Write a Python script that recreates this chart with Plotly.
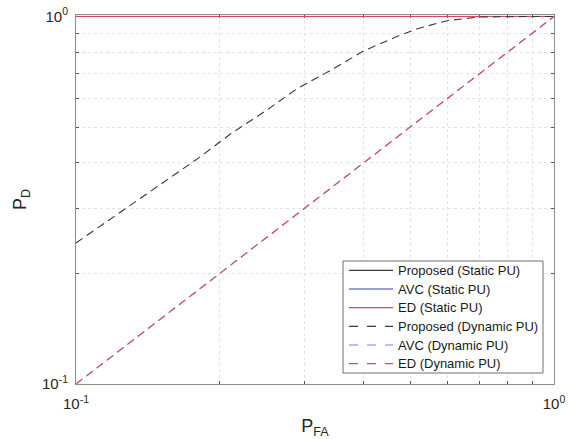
import plotly.graph_objects as go

# False-alarm probability grid shared by the static and diagonal curves
pfa = [0.1, 0.2, 0.3, 0.4, 0.5, 0.6, 0.7, 0.8, 0.9, 1.0]

# Static PU: all detectors reach P_D = 1
pd_proposed_static = [1.0, 1.0, 1.0, 1.0, 1.0, 1.0, 1.0, 1.0, 1.0, 1.0]
pd_avc_static = [1.0, 1.0, 1.0, 1.0, 1.0, 1.0, 1.0, 1.0, 1.0, 1.0]
pd_ed_static = [1.0, 1.0, 1.0, 1.0, 1.0, 1.0, 1.0, 1.0, 1.0, 1.0]

# Dynamic PU: proposed detector
pfa_proposed_dyn = [0.10, 0.12, 0.15, 0.18, 0.21, 0.25, 0.29, 0.34, 0.40,
                    0.47, 0.52, 0.60, 0.70, 0.80, 0.90, 1.00]
pd_proposed_dyn = [0.242, 0.285, 0.349, 0.411, 0.478, 0.555, 0.636, 0.712, 0.806,
                   0.883, 0.928, 0.975, 0.997, 1.0, 1.0, 1.0]

# Dynamic PU: AVC and ED follow the chance line
pd_avc_dyn = [0.1, 0.2, 0.3, 0.4, 0.5, 0.6, 0.7, 0.8, 0.9, 1.0]
pd_ed_dyn = [0.1, 0.2, 0.3, 0.4, 0.5, 0.6, 0.7, 0.8, 0.9, 1.0]

FONT = "Liberation Sans, Arial, sans-serif"
W, H = 572, 439
ML, MR, MT, MB = 76, 18, 15, 55
PW, PH = W - ML - MR, H - MT - MB


def px_to_paper(px, py):
    return (px - ML) / PW, (H - MB - py) / PH


fig = go.Figure()

series = [
    ("Proposed (Static PU)", pfa, pd_proposed_static, "#3a3a3a", "solid"),
    ("AVC (Static PU)", pfa, pd_avc_static, "#3c3cc8", "solid"),
    ("ED (Static PU)", pfa, pd_ed_static, "#d84a52", "solid"),
    ("Proposed (Dynamic PU)", pfa_proposed_dyn, pd_proposed_dyn, "#383838", "8px,5px"),
    ("AVC (Dynamic PU)", pfa, pd_avc_dyn, "#7c7cf0", "8px,5px"),
    ("ED (Dynamic PU)", pfa, pd_ed_dyn, "#d84a5e", "8px,5px"),
]
for name, xs, ys, color, dash in series:
    fig.add_trace(go.Scatter(
        x=xs, y=ys, name=name, mode="lines", showlegend=False,
        line=dict(color=color, width=1.0 if dash == "solid" else 1.1, dash=dash),
    ))

# Legend box drawn with shapes so its row spacing can be set
box_x0, box_x1, box_y0, box_y1 = 343, 543, 261, 373
bx0, by0 = px_to_paper(box_x0, box_y1)
bx1, by1 = px_to_paper(box_x1, box_y0)
fig.add_shape(type="rect", xref="paper", yref="paper",
              x0=bx0, y0=by0, x1=bx1, y1=by1,
              line=dict(color="#6e6e6e", width=1), fillcolor="white", layer="above")
row_h = (box_y1 - box_y0) / len(series)
for i, (name, _, _, color, dash) in enumerate(series):
    cy = box_y0 + row_h * (i + 0.5)
    lx0, ly = px_to_paper(349, cy)
    lx1, _ = px_to_paper(393, cy)
    fig.add_shape(type="line", xref="paper", yref="paper",
                  x0=lx0, x1=lx1, y0=ly, y1=ly, layer="above",
                  line=dict(color=color, width=1.1,
                            dash="dash" if dash != "solid" else "solid"))
    tx, _ = px_to_paper(396, cy)
    fig.add_annotation(xref="paper", yref="paper", x=tx, y=ly,
                       xanchor="left", yanchor="middle", showarrow=False,
                       text=name, font=dict(family=FONT, size=13, color="#1a1a1a"))

minor_grid = dict(
    tickvals=[0.2, 0.3, 0.4, 0.5, 0.6, 0.7, 0.8, 0.9],
    ticks="inside",
    ticklen=3,
    tickcolor="#555555",
    showgrid=True,
    gridcolor="#e2e2e2",
    griddash="dot",
    gridwidth=1,
)

axis_common = dict(
    type="log",
    automargin=False,
    showline=True,
    linecolor="#8c8c8c",
    linewidth=1,
    mirror="allticks",
    ticks="inside",
    ticklen=5,
    tickcolor="#555555",
    showgrid=False,
    zeroline=False,
    layer="below traces",
    tickvals=[0.1, 1.0],
    ticktext=["10<sup>-1</sup>", "10<sup>0</sup>"],
    tickfont=dict(family=FONT, size=15, color="#262626"),
    minor=minor_grid,
)

fig.update_xaxes(
    **axis_common,
    range=[-1, 0],
    ticklabelstandoff=6,
    title=dict(text="P<sub>FA</sub>", standoff=14,
               font=dict(family=FONT, size=18, color="#262626")),
)
fig.update_yaxes(
    **axis_common,
    range=[-1, 0.004],
    ticklabelstandoff=4,
    title=dict(text="P<sub>D</sub>", standoff=10,
               font=dict(family=FONT, size=18, color="#262626")),
)

fig.update_layout(
    width=W,
    height=H,
    margin=dict(l=ML, r=MR, t=MT, b=MB, autoexpand=False),
    paper_bgcolor="white",
    plot_bgcolor="white",
    showlegend=False,
)

fig.write_html("out.html")
